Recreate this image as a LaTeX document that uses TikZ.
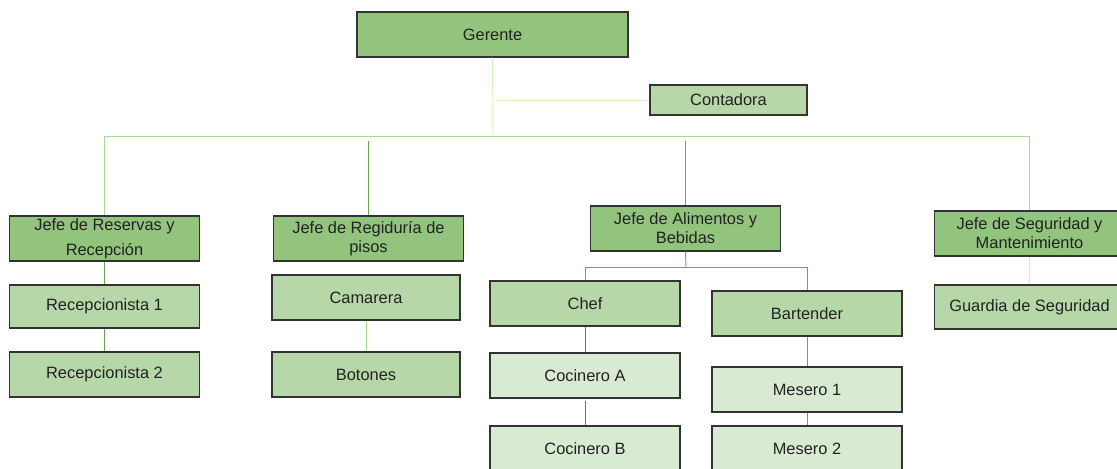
\documentclass[tikz,border=0pt]{standalone}
\usepackage{fontspec}
\setmainfont{Liberation Sans}
\definecolor{jefe}{HTML}{93C47D}
\definecolor{mando}{HTML}{B6D7A8}
\definecolor{base}{HTML}{D9EAD3}
\definecolor{borde}{HTML}{333333}
\definecolor{texto}{HTML}{222222}
\definecolor{lmed}{HTML}{6AA84F}
\definecolor{lclara}{HTML}{A8D990}
\definecolor{ltenue}{HTML}{D2F0C2}
\definecolor{loscura}{HTML}{4E8A3E}
\begin{document}
\begin{tikzpicture}[x=0.75pt,y=-0.75pt,
  caja/.style={draw=borde,line width=0.9pt,rectangle,inner sep=0pt,
    minimum width=142pt,minimum height=33.75pt,align=center,
    text=texto,font=\fontsize{12.3}{14.3}\selectfont},
  nivel1/.style={caja,fill=jefe},
  nivel2/.style={caja,fill=mando},
  nivel3/.style={caja,fill=base},
  enlace/.style={line width=0.7pt,draw=lmed},
  claro/.style={line width=0.7pt,draw=lclara},
  tenue/.style={line width=0.7pt,draw=ltenue},
  oscuro/.style={line width=0.7pt,draw=loscura}]
\useasboundingbox (0,0) rectangle (1117,468);
\clip (0,0) rectangle (1117,468);

% direccion
\node[nivel1,minimum width=203.25pt] (ger) at (492.5,34.5) {Gerente};
\node[nivel2,minimum width=117.75pt,minimum height=22.5pt] (cont) at (728.5,100) {Contadora};

% jefaturas
\node[nivel1,font=\fontsize{12.3}{18.75}\selectfont] (res) at (104.5,238.5) {Jefe de Reservas y\\Recepción};
\node[nivel1] (reg) at (368.5,238.5) {Jefe de Regiduría de\\pisos};
\node[nivel1] (ali) at (685.5,228.5) {Jefe de Alimentos y\\Bebidas};
\node[nivel1] (seg) at (1029.5,233.5) {Jefe de Seguridad y\\Mantenimiento};

% personal
\node[nivel2,minimum height=32.25pt] (rec1) at (104.5,306.5) {Recepcionista 1};
\node[nivel2] (rec2) at (104.5,374.5) {Recepcionista 2};
\node[nivel2,minimum width=141pt] (cam) at (366,297.5) {Camarera};
\node[nivel2,minimum width=141pt] (bot) at (366,374.5) {Botones};
\node[nivel2,minimum width=142.5pt] (chef) at (585,303.5) {Chef};
\node[nivel2,minimum width=142.5pt] (bar) at (807,313.5) {Bartender};
\node[nivel3,minimum width=142.5pt] (coa) at (585,375.5) {Cocinero A};
\node[nivel3,minimum width=142.5pt] (cob) at (585,448.5) {Cocinero B};
\node[nivel3,minimum width=142.5pt] (me1) at (807,389.5) {Mesero 1};
\node[nivel3,minimum width=142.5pt] (me2) at (807,448.5) {Mesero 2};
\node[nivel2,minimum height=33pt] (gua) at (1029.5,307) {Guardia de Seguridad};

% conectores
\coordinate (bus) at (493,136);
\coordinate (abus) at (686,267);
\draw[tenue] (ger.south) -- (bus);
\draw[tenue] (cont.west) -- ([xshift=3pt]ger.south |- cont.west);
\draw[claro] (res.north |- bus) -- (seg.north |- bus);
\draw[claro] (res.north |- bus) -- (res.north);
\draw[enlace] ([yshift=-4pt]reg.north |- bus) -- (reg.north);
\draw[enlace] ([yshift=-4pt]ali.north |- bus) -- (ali.north);
\draw[claro] (seg.north |- bus) -- (seg.north);

\draw[enlace] (res.south) -- (rec1.north);
\draw[enlace] (rec1.south) -- (rec2.north);
\draw[claro] (cam.south) -- (bot.north);

\draw[enlace] (ali.south) -- (abus);
\draw[enlace] (chef.north |- abus) -- (bar.north |- abus);
\draw[enlace] (chef.north |- abus) -- (chef.north);
\draw[enlace] (bar.north |- abus) -- (bar.north);
\draw[oscuro] (chef.south) -- (coa.north);
\draw[oscuro] ([yshift=-2pt]coa.south) -- (cob.north);
\draw[enlace] (bar.south) -- (me1.north);
\draw[enlace] (me1.south) -- (me2.north);
\draw[tenue] (seg.south) -- (gua.north);
\end{tikzpicture}
\end{document}
